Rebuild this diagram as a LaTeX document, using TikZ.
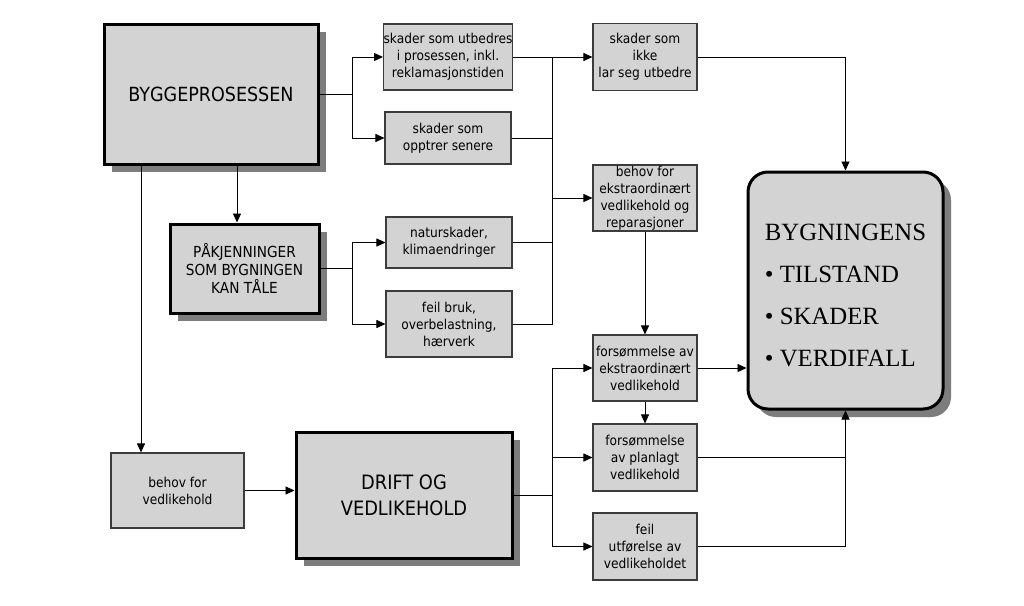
\documentclass[tikz,border=0pt]{standalone}
\usepackage{fontspec}
\usetikzlibrary{arrows.meta,shadows}
\newfontfamily\tah{DejaVu Sans Condensed}
\newfontfamily\tms{Liberation Serif}
\definecolor{boxgray}{RGB}{211,211,211}
\definecolor{shadowgray}{RGB}{125,125,125}
\definecolor{edgegray}{RGB}{60,60,60}
\tikzset{
  smallbox/.style={draw=edgegray,line width=1.1pt,fill=boxgray,inner sep=0pt,align=center,
    font=\tah\fontsize{13.6}{17}\selectfont},
  bigbox/.style={draw=black,line width=3pt,fill=boxgray,inner sep=0pt,align=center,
    drop shadow={shadow xshift=8pt,shadow yshift=-8pt,fill=shadowgray,opacity=1}},
  conn/.style={line width=0.9pt,draw=black},
  arr/.style={conn,-{Triangle[length=9pt,width=8pt]}}
}
\begin{document}
\begin{tikzpicture}[x=1pt,y=-1pt]
\useasboundingbox[fill=white] (0,0) rectangle (1024,605);
% big boxes
\node[bigbox,minimum width=214pt,minimum height=140pt,font=\tah\fontsize{19.5}{25}\selectfont] (bygg) at (211,94) {BYGGEPROSESSEN};
\node[bigbox,minimum width=149pt,minimum height=89pt,font=\tah\fontsize{15.2}{18}\selectfont] (pak) at (244.5,268.5) {PÅKJENNINGER\\SOM BYGNINGEN\\KAN TÅLE};
\node[bigbox,minimum width=216pt,minimum height=126pt,font=\tah\fontsize{19.8}{26}\selectfont] (drift) at (404,495) {DRIFT OG\\VEDLIKEHOLD};
\node[bigbox,rounded corners=20pt,minimum width=195pt,minimum height=237pt] (byg) at (845.5,290.5) {};
\node[inner sep=0pt,align=left,font=\tms\fontsize{24.8}{42}\selectfont] (bygtxt) at ([yshift=-5pt]byg.center) {BYGNINGENS\\\textbullet\ TILSTAND\\\textbullet\ SKADER\\\textbullet\ VERDIFALL};
% small boxes
\node[smallbox,minimum width=126pt,minimum height=66pt] (s1) at (448,57) {skader som utbedres\\i prosessen, inkl.\\reklamasjonstiden};
\node[smallbox,minimum width=126pt,minimum height=52pt] (s2) at (448,138) {skader som\\opptrer senere};
\node[smallbox,minimum width=104pt,minimum height=67pt] (ikke) at (645,57) {skader som\\ikke\\lar seg utbedre};
\node[smallbox,minimum width=104pt,minimum height=66pt] (bex) at (645,198) {behov for\\ekstraordinært\\vedlikehold og\\reparasjoner};
\node[smallbox,minimum width=126pt,minimum height=51pt] (nat) at (449,242.5) {naturskader,\\klimaendringer};
\node[smallbox,minimum width=126pt,minimum height=66pt] (feil) at (449,324) {feil bruk,\\overbelastning,\\hærverk};
\node[smallbox,minimum width=104pt,minimum height=66pt] (fex) at (645,368) {forsømmelse av\\ekstraordinært\\vedlikehold};
\node[smallbox,minimum width=104pt,minimum height=67pt] (fpl) at (645,457.5) {forsømmelse\\av planlagt\\vedlikehold};
\node[smallbox,minimum width=104pt,minimum height=67pt] (fut) at (645,546.5) {feil\\utførelse av\\vedlikeholdet};
\node[smallbox,minimum width=133pt,minimum height=75pt] (beh) at (177.5,490.5) {behov for\\vedlikehold};
% junction coordinates
\coordinate (j1) at (352,94);
\coordinate (j2) at (552,198);
\coordinate (j3) at (552,495);
\coordinate (jp) at (352,268.5);
\coordinate (xa) at (141,0);
\coordinate (xb) at (237,0);
% connectors
\draw[conn] (bygg.east) -- (j1);
\draw[arr] (j1) |- (s1.west);
\draw[arr] (j1) |- (s2.west);
\draw[arr] (s1.east) -- (ikke.west);
\draw[conn] (s1.east) -| (j2);
\draw[conn] (s2.east) -| (j2);
\draw[conn] (nat.east) -| (j2);
\draw[conn] (feil.east) -| (j2);
\draw[arr] (j2) -- (bex.west);
\draw[arr] (ikke.east) -| (byg.north);
\draw[arr] (bex.south) -- (fex.north);
\draw[arr] (fex.east) -- (fex.east -| byg.west);
\draw[arr] (fex.south) -- (fpl.north);
\draw[conn] (fpl.east) -| (byg.south);
\draw[arr] (fut.east) -| (byg.south);
\draw[conn] (drift.east) -- (j3);
\draw[arr] (j3) |- (fex.west);
\draw[arr] (j3) |- (fpl.west);
\draw[arr] (j3) |- (fut.west);
\draw[arr] (bygg.south -| xb) -- (pak.north -| xb);
\draw[conn] (pak.east) -- (jp);
\draw[arr] (jp) |- (nat.west);
\draw[arr] (jp) |- (feil.west);
\draw[arr] (bygg.south -| xa) -- (beh.north -| xa);
\draw[arr] (beh.east) -- (beh.east -| drift.west);
\end{tikzpicture}
\end{document}
